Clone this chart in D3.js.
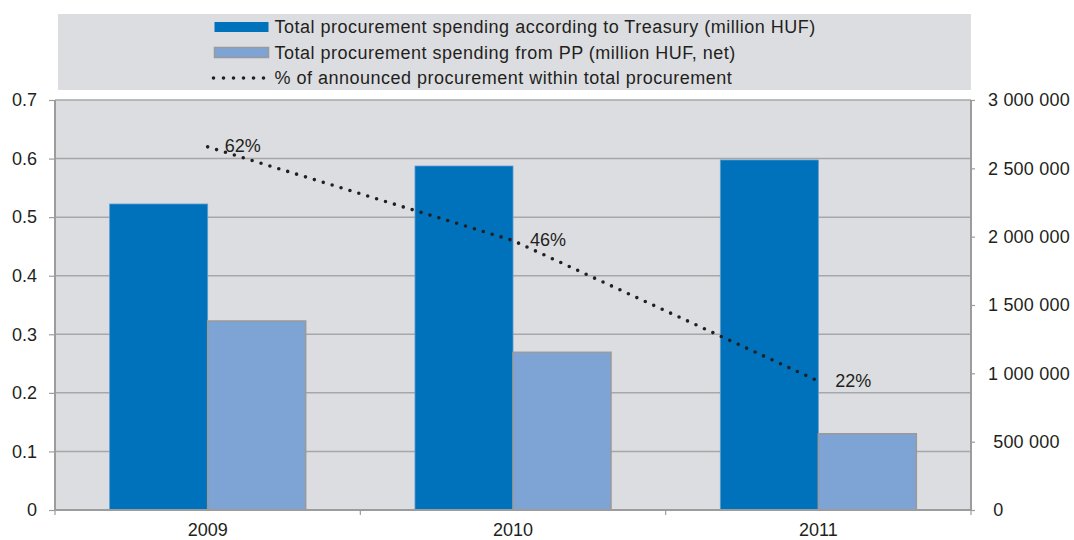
<!DOCTYPE html>
<html>
<head>
<meta charset="utf-8">
<script src="https://cdn.jsdelivr.net/npm/d3@7/dist/d3.min.js"></script>
<style>
  body { margin: 0; background: #fff; }
  svg { display: block; font-family: "Liberation Sans", Arial, sans-serif; }
</style>
</head>
<body>
<svg id="chart" width="1074" height="540"></svg>
<script>
// Procurement spending by year
const years = ["2009", "2010", "2011"];
const seriesNames = [
  "Total procurement spending according to Treasury (million HUF)",
  "Total procurement spending from PP (million HUF, net)"
];
const treasurySpending = [2239000, 2517000, 2561000];
const ppSpending = [1383000, 1154000, 558000];
const announcedShare = [0.62, 0.46, 0.22];
const shareLabels = ["62%", "46%", "22%"];
const lineName = "% of announced procurement within total procurement";
const leftTicks = [0, 0.1, 0.2, 0.3, 0.4, 0.5, 0.6, 0.7];
const rightTicks = [0, 500000, 1000000, 1500000, 2000000, 2500000, 3000000];

const colors = ["#0071bb", "#7ea3d5"];
const plot = { left: 55, right: 971, top: 100, bottom: 510 };
const fontSize = 18;
const textColor = "#231f20";

const svg = d3.select("#chart");

const x0 = d3.scaleBand().domain(years).range([plot.left, plot.right])
  .paddingInner(0.358).paddingOuter(0.179);
const x1 = d3.scaleBand().domain([0, 1]).range([0, x0.bandwidth()]);
const yLeft = d3.scaleLinear().domain([0, 0.7]).range([plot.bottom, plot.top]);
const yRight = d3.scaleLinear().domain([0, 3000000]).range([plot.bottom, plot.top]);

// Plot background
svg.append("rect")
  .attr("x", plot.left).attr("y", plot.top)
  .attr("width", plot.right - plot.left).attr("height", plot.bottom - plot.top)
  .attr("fill", "#dcdde0");

// Gridlines
svg.append("g").selectAll("line").data(leftTicks.filter(d => d > 0)).join("line")
  .attr("x1", plot.left).attr("x2", plot.right)
  .attr("y1", d => yLeft(d)).attr("y2", d => yLeft(d))
  .attr("stroke", "#a6a7a9").attr("stroke-width", 1.5);

// Bars
const barData = years.flatMap((yr, i) => [
  { yr, s: 0, v: treasurySpending[i] },
  { yr, s: 1, v: ppSpending[i] }
]);
svg.append("g").selectAll("rect").data(barData).join("rect")
  .attr("x", d => x0(d.yr) + x1(d.s))
  .attr("y", d => yRight(d.v))
  .attr("width", x1.bandwidth())
  .attr("height", d => plot.bottom - yRight(d.v))
  .attr("fill", d => colors[d.s])
  .attr("stroke", d => d.s === 1 ? "#9a9a9a" : "#5c9bd0")
  .attr("stroke-width", d => d.s === 1 ? 1.5 : 0.8);

// Axes
const axisColor = "#9c9c9c";
const leftAxis = svg.append("g").attr("transform", `translate(${plot.left},0)`)
  .call(d3.axisLeft(yLeft).tickValues(leftTicks).tickSize(6).tickPadding(12)
    .tickFormat(d => d === 0 ? "0" : d3.format(".1f")(d)));
const rightFmt = d => (d < 1000000 ? " " : "") + d3.format(",")(d).replace(/,/g, " ");
const rightAxis = svg.append("g").attr("transform", `translate(${plot.right},0)`)
  .call(d3.axisRight(yRight).tickValues(rightTicks).tickSize(4).tickPadding(13)
    .tickFormat(rightFmt));
rightAxis.selectAll("text").style("white-space", "pre").attr("letter-spacing", 0.2);
const bottomAxis = svg.append("g").attr("transform", `translate(0,${plot.bottom})`)
  .call(d3.axisBottom(x0).tickSize(0).tickPadding(13));

// Category separators along the bottom axis
svg.append("g").selectAll("line")
  .data(d3.range(years.length + 1).map(i => plot.left + i * (plot.right - plot.left) / years.length))
  .join("line")
  .attr("x1", d => d).attr("x2", d => d)
  .attr("y1", plot.bottom).attr("y2", plot.bottom + 5)
  .attr("stroke", axisColor).attr("stroke-width", 1.2);

[leftAxis, rightAxis, bottomAxis].forEach(g => {
  g.select(".domain").attr("stroke", axisColor).attr("stroke-width", 2);
  g.selectAll(".tick line").attr("stroke", axisColor).attr("stroke-width", 1.2);
  g.selectAll("text").attr("font-size", fontSize).attr("fill", textColor)
    .attr("font-family", "Liberation Sans, Arial, sans-serif");
});
bottomAxis.select(".domain").attr("d", `M${plot.left},0H${plot.right}`);
leftAxis.select(".domain").attr("d", `M0,${plot.top}V${plot.bottom}`);
rightAxis.select(".domain").attr("d", `M0,${plot.top}V${plot.bottom}`);

// Dotted share line
const pts = years.map((yr, i) => [x0(yr) + x0.bandwidth() / 2, yLeft(announcedShare[i])]);
svg.append("path")
  .attr("d", d3.line()(pts))
  .attr("fill", "none").attr("stroke", textColor)
  .attr("stroke-width", 3.6).attr("stroke-linecap", "round")
  .attr("stroke-dasharray", "0 9.3");

svg.append("g").selectAll("text").data(pts).join("text")
  .attr("x", d => d[0] + 17).attr("y", d => d[1])
  .attr("dy", "0.3em")
  .attr("font-size", fontSize).attr("fill", textColor)
  .text((d, i) => shareLabels[i]);

// Legend
const legend = svg.append("g");
legend.append("rect").attr("x", 58).attr("y", 14).attr("width", 913).attr("height", 76)
  .attr("fill", "#dcdde0");
const rowY = [27, 52.5, 78];
seriesNames.forEach((name, i) => {
  legend.append("rect")
    .attr("x", 214.5).attr("y", rowY[i] - 5).attr("width", 54).attr("height", 10)
    .attr("fill", colors[i])
    .attr("stroke", i === 1 ? "#9a9a9a" : "none").attr("stroke-width", 1.5);
  legend.append("text").attr("x", 274.5).attr("y", rowY[i]).attr("dy", "0.35em")
    .attr("font-size", fontSize).attr("letter-spacing", 0.5).attr("fill", textColor).text(name);
});
legend.append("line")
  .attr("x1", 213.5).attr("x2", 264).attr("y1", rowY[2]).attr("y2", rowY[2])
  .attr("stroke", textColor).attr("stroke-width", 3.6).attr("stroke-linecap", "round")
  .attr("stroke-dasharray", "0 10");
legend.append("text").attr("x", 274.5).attr("y", rowY[2]).attr("dy", "0.35em")
  .attr("font-size", fontSize).attr("letter-spacing", 0.5).attr("fill", textColor).text(lineName);
</script>
</body>
</html>
